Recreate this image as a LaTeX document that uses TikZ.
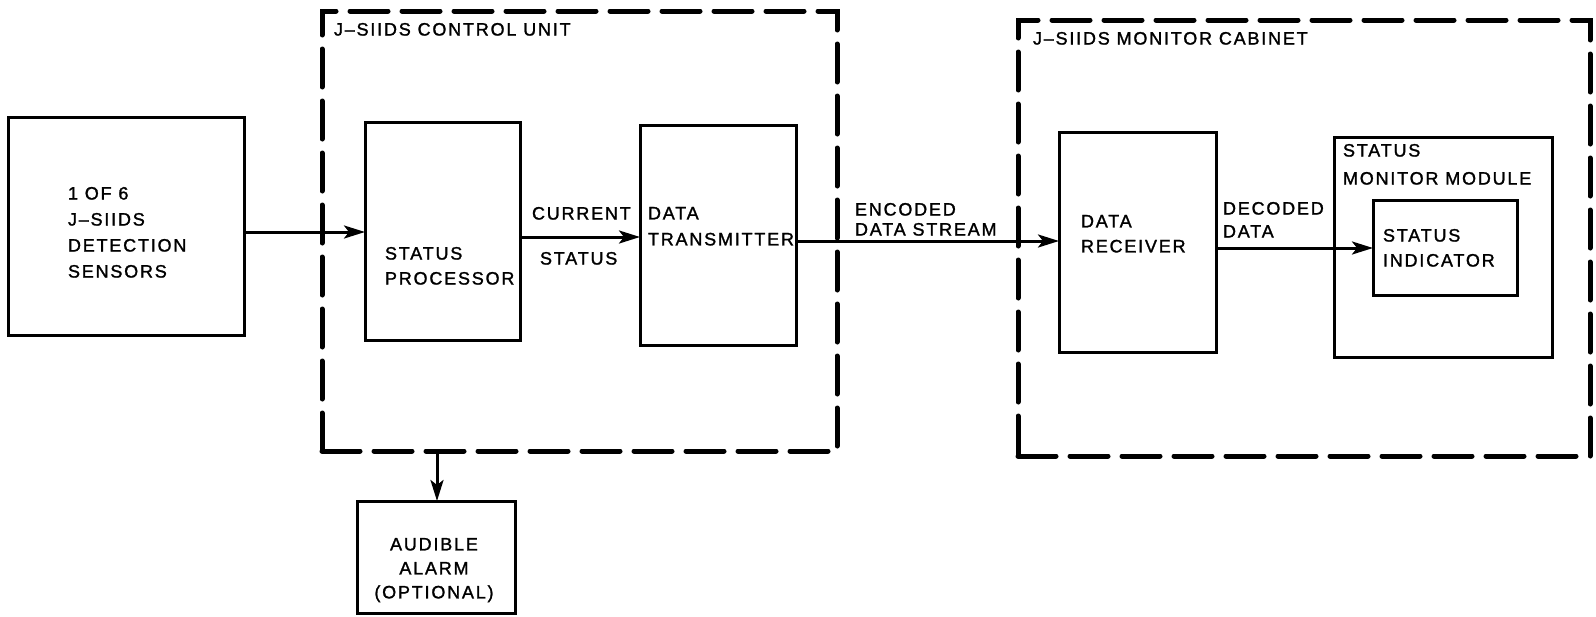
\documentclass[tikz,border=0pt]{standalone}
\usepackage{fontspec}
\setmainfont{Liberation Sans}[LetterSpace=10, FakeBold=1.4]
\usetikzlibrary{arrows.meta}
\tikzset{
  box/.style={draw, line width=3pt, inner sep=0pt, outer sep=0pt, anchor=north west},
  grp/.style={draw, line width=5pt, dash pattern=on 38pt off 14pt, line cap=round, inner sep=0pt, outer sep=0pt, anchor=north west},
  lbl/.style={inner sep=0pt, outer sep=0pt, anchor=north west, align=left, font=\fontsize{18}{#1}\selectfont},
  lbl/.default=26,
  arr/.style={line width=3pt, -{Stealth[length=21pt,width=13pt,inset=5pt]}},
}
\begin{document}
\begin{tikzpicture}[x=1pt,y=-1pt]
\useasboundingbox (0,0) rectangle (1596,616);
% boxes
\node[box, minimum width=236pt, minimum height=218pt] (sensors) at (8,117) {};
\node[grp, minimum width=515pt, minimum height=440pt] (cu) at (322,11) {};
\node[box, minimum width=155pt, minimum height=218pt] (sp) at (365,122) {};
\node[box, minimum width=156pt, minimum height=220pt] (dt) at (640,125) {};
\node[box, minimum width=158pt, minimum height=112pt] (alarm) at (357,501) {};
\node[grp, minimum width=572pt, minimum height=436pt] (mc) at (1018,20) {};
\node[box, minimum width=157pt, minimum height=220pt] (dr) at (1059,132) {};
\node[box, minimum width=218pt, minimum height=220pt] (smm) at (1334,137) {};
\node[box, minimum width=144pt, minimum height=95pt] (si) at (1373,200) {};
% labels
\node[lbl] (tsens) at (68,187) {1 OF 6\\J–SIIDS\\DETECTION\\SENSORS};
\node[lbl] (tcu) at (334,23) {J–SIIDS CONTROL UNIT};
\node[lbl=25] (tsp) at (385,247) {STATUS\\PROCESSOR};
\node[lbl] (tcur) at (532,207) {CURRENT};
\node[lbl] (tstat) at (540,252) {STATUS};
\node[lbl] (tdt) at (648,207) {DATA\\TRANSMITTER};
\node[lbl=20] (tenc) at (855,203) {ENCODED\\DATA STREAM};
\node[lbl] (tmc) at (1033,32) {J–SIIDS MONITOR CABINET};
\node[lbl=25] (tdr) at (1081,215) {DATA\\RECEIVER};
\node[lbl=23] (tdec) at (1223,202) {DECODED\\DATA};
\node[lbl=28] (tsmm) at (1343,144) {STATUS\\MONITOR MODULE};
\node[lbl=25] (tsi) at (1383,229) {STATUS\\INDICATOR};
\node[lbl=24, anchor=north, align=center] (talarm) at (434,538) {AUDIBLE\\ALARM\\(OPTIONAL)};
% connector levels
\coordinate (ya) at (0,232);
\coordinate (yb) at (0,237);
\coordinate (yc) at (0,241);
\coordinate (yd) at (0,248);
\coordinate (xa) at (437,0);
% connectors
\draw[arr] (sensors.east |- ya) -- (sp.west |- ya);
\draw[arr] (sp.east |- yb) -- (dt.west |- yb);
\draw[arr] (dt.east |- yc) -- (dr.west |- yc);
\draw[arr] (dr.east |- yd) -- (si.west |- yd);
\draw[arr] (xa |- cu.south) -- (xa |- alarm.north);
\end{tikzpicture}
\end{document}
